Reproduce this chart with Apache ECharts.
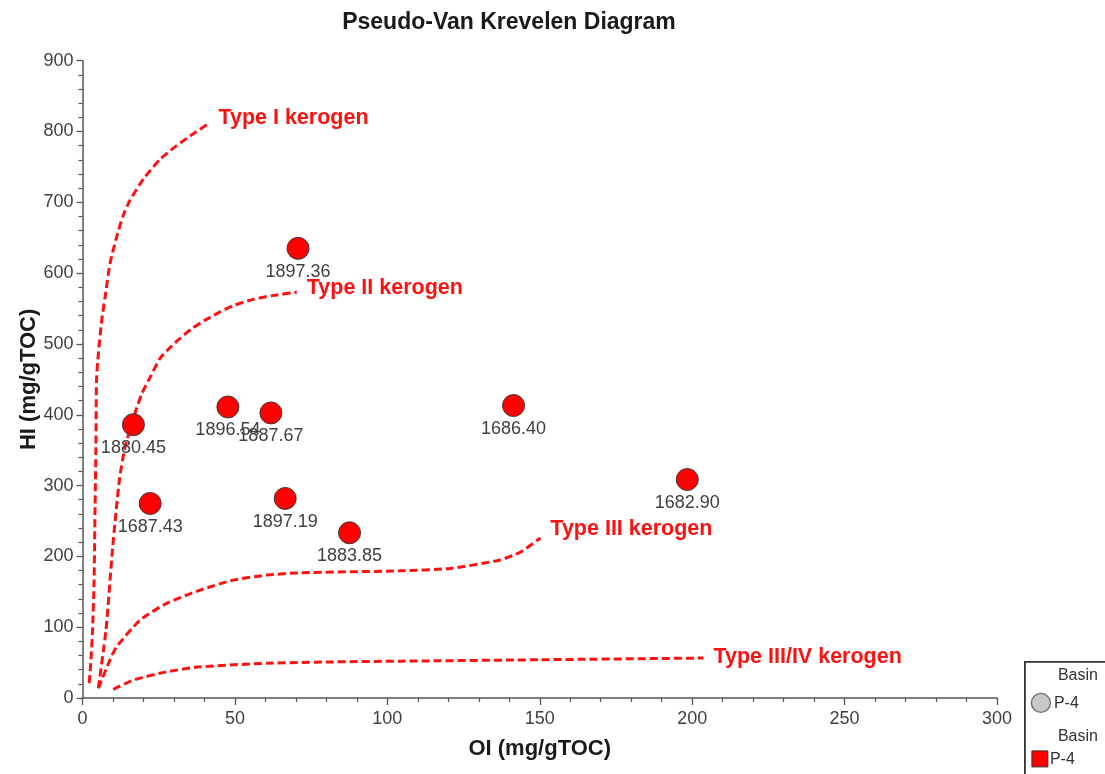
<!DOCTYPE html>
<html>
<head>
<meta charset="utf-8">
<title>Pseudo-Van Krevelen Diagram</title>
<script src="https://cdn.jsdelivr.net/npm/echarts@6/dist/echarts.min.js"></script>
<style>
  html, body { margin: 0; padding: 0; background: #ffffff; }
  #chart { width: 1105px; height: 774px; }
</style>
</head>
<body>
<div id="chart"></div>
<script>
// Sample points: oxygen index (x), hydrogen index (y), depth labels
const sampleOI = [70.7, 16.7, 47.7, 61.8, 141.4, 22.2, 66.5, 87.6, 198.4];
const sampleHI = [635, 386, 411, 402.6, 413, 274.7, 281.8, 233.3, 308.6];
const sampleDepth = ['1897.36', '1880.45', '1896.54', '1887.67', '1686.40', '1687.43', '1897.19', '1883.85', '1682.90'];

// Kerogen type reference curves
const typeI_OI  = [2.2, 2.7, 3.3, 3.8, 4.1, 4.4, 4.6, 5.2, 6.3, 7.4, 9.0, 11.2, 13.4, 15.6, 20.0, 25.5, 30.9, 36.4, 41.3];
const typeI_HI  = [21, 49, 96, 166, 261, 355, 449, 486, 533, 566, 613, 651, 682, 703, 733, 761, 780, 797, 811];

const typeII_OI = [5.2, 7.7, 9.9, 12.1, 14.0, 17.2, 19.5, 22.2, 25.5, 29.0, 32.0, 36.0, 40.0, 45.0, 50.0, 56.0, 62.7, 70.3];
const typeII_HI = [14, 96, 213, 308, 355, 402, 430, 453, 480, 496, 508, 522, 533, 545, 555, 563, 568.6, 573];

const typeIII_OI = [5.2, 9.0, 11.2, 18.9, 27.6, 38.6, 49.5, 60.5, 71.4, 104.3, 120.7, 137.0, 143.7, 150.2];
const typeIII_HI = [13.7, 53.6, 72.4, 110, 133.6, 152.4, 166.5, 173.6, 176.8, 179.6, 183, 195, 206, 226];

const typeIV_OI = [10.1, 16.7, 27.6, 38.6, 60.5, 82.3, 104.3, 150, 203.7];
const typeIV_HI = [12.2, 25.4, 37, 44, 49, 51, 52, 54, 56.4];

const curveNames = ['Type I kerogen', 'Type II kerogen', 'Type III kerogen', 'Type III/IV kerogen'];

// Axis ticks
const oiTicks = [0, 50, 100, 150, 200, 250, 300];
const hiTicks = [0, 100, 200, 300, 400, 500, 600, 700, 800, 900];

const FONT = '"Liberation Sans", Arial, sans-serif';

// Dashed red reference curve with its name written just past the end
function curveSeries(name, xs, ys, labelRise) {
  return {
    name: name,
    type: 'line',
    smooth: 0.2,
    symbol: 'none',
    showSymbol: false,
    silent: true,
    z: 2,
    lineStyle: { color: '#ff1010', width: 3, type: [8, 4] },
    endLabel: {
      show: true,
      formatter: name,
      distance: 10,
      offset: [0, -labelRise],
      color: '#ff1010',
      fontFamily: FONT,
      fontWeight: 'bold',
      fontSize: 21.5
    },
    data: xs.map((x, i) => [x, ys[i]])
  };
}

const chart = echarts.init(document.getElementById('chart'), null, { renderer: 'canvas' });

chart.setOption({
  backgroundColor: '#ffffff',
  animation: false,
  title: {
    text: 'Pseudo-Van Krevelen Diagram',
    left: 504,
    textAlign: 'center',
    top: 6,
    textStyle: { fontFamily: FONT, fontWeight: 'bold', fontSize: 23, color: '#1a1a1a' }
  },
  grid: { left: 82.5, right: 108, top: 60.7, bottom: 76, containLabel: false },
  xAxis: {
    type: 'value',
    min: oiTicks[0],
    max: oiTicks[oiTicks.length - 1],
    interval: 50,
    name: 'OI (mg/gTOC)',
    nameLocation: 'middle',
    nameGap: 40,
    nameMoveOverlap: false,
    nameTextStyle: { fontFamily: FONT, fontWeight: 'bold', fontSize: 22, color: '#1a1a1a' },
    axisLine: { show: true, onZero: false, lineStyle: { color: '#555', width: 1.5 } },
    axisTick: { show: true, length: 7, lineStyle: { color: '#555', width: 1.3 } },
    minorTick: { show: true, splitNumber: 5, length: 4, lineStyle: { color: '#555', width: 1.2 } },
    axisLabel: { margin: 12, fontFamily: FONT, fontSize: 18, color: '#404040' },
    splitLine: { show: false }
  },
  yAxis: {
    type: 'value',
    min: hiTicks[0],
    max: hiTicks[hiTicks.length - 1],
    interval: 100,
    name: 'HI (mg/gTOC)',
    nameLocation: 'middle',
    nameGap: 43,
    nameRotate: 90,
    nameMoveOverlap: false,
    nameTextStyle: { fontFamily: FONT, fontWeight: 'bold', fontSize: 22, color: '#1a1a1a' },
    axisLine: { show: true, onZero: false, lineStyle: { color: '#555', width: 1.5 } },
    axisTick: { show: true, length: 6, lineStyle: { color: '#555', width: 1.3 } },
    minorTick: { show: true, splitNumber: 5, length: 4, lineStyle: { color: '#555', width: 1.2 } },
    axisLabel: { margin: 9, fontFamily: FONT, fontSize: 18, color: '#404040' },
    splitLine: { show: false }
  },
  series: [
    curveSeries(curveNames[0], typeI_OI, typeI_HI, 6),
    curveSeries(curveNames[1], typeII_OI, typeII_HI, 4),
    curveSeries(curveNames[2], typeIII_OI, typeIII_HI, 9),
    curveSeries(curveNames[3], typeIV_OI, typeIV_HI, 1),
    {
      name: 'P-4',
      type: 'scatter',
      z: 5,
      symbol: 'circle',
      symbolSize: 22,
      itemStyle: { color: '#ff0000', opacity: 1, borderColor: '#3a3a3a', borderWidth: 1 },
      label: {
        show: true,
        position: 'bottom',
        distance: 3,
        formatter: p => p.value[2],
        fontFamily: FONT,
        fontSize: 18,
        color: '#404040'
      },
      data: sampleOI.map((x, i) => [x, sampleHI[i], sampleDepth[i]])
    }
  ],
  graphic: [
    {
      type: 'group',
      left: 1024,
      top: 661,
      children: [
        { type: 'rect', shape: { x: 0, y: 0, width: 100, height: 130 },
          style: { fill: '#ffffff', stroke: '#333', lineWidth: 1.8 } },
        { type: 'text', x: 33, y: 14,
          style: { text: 'Basin', fill: '#333', font: '16px ' + FONT, verticalAlign: 'middle' } },
        { type: 'circle', shape: { cx: 16, cy: 41, r: 9.5 },
          style: { fill: '#c8c8c8', stroke: '#707070', lineWidth: 1.4 } },
        { type: 'text', x: 29, y: 42,
          style: { text: 'P-4', fill: '#333', font: '16px ' + FONT, verticalAlign: 'middle' } },
        { type: 'text', x: 33, y: 75,
          style: { text: 'Basin', fill: '#333', font: '16px ' + FONT, verticalAlign: 'middle' } },
        { type: 'rect', shape: { x: 7, y: 89, width: 16, height: 16 },
          style: { fill: '#ff0000', stroke: '#333', lineWidth: 1 } },
        { type: 'text', x: 25, y: 98,
          style: { text: 'P-4', fill: '#333', font: '16px ' + FONT, verticalAlign: 'middle' } }
      ]
    }
  ]
});
</script>
</body>
</html>
